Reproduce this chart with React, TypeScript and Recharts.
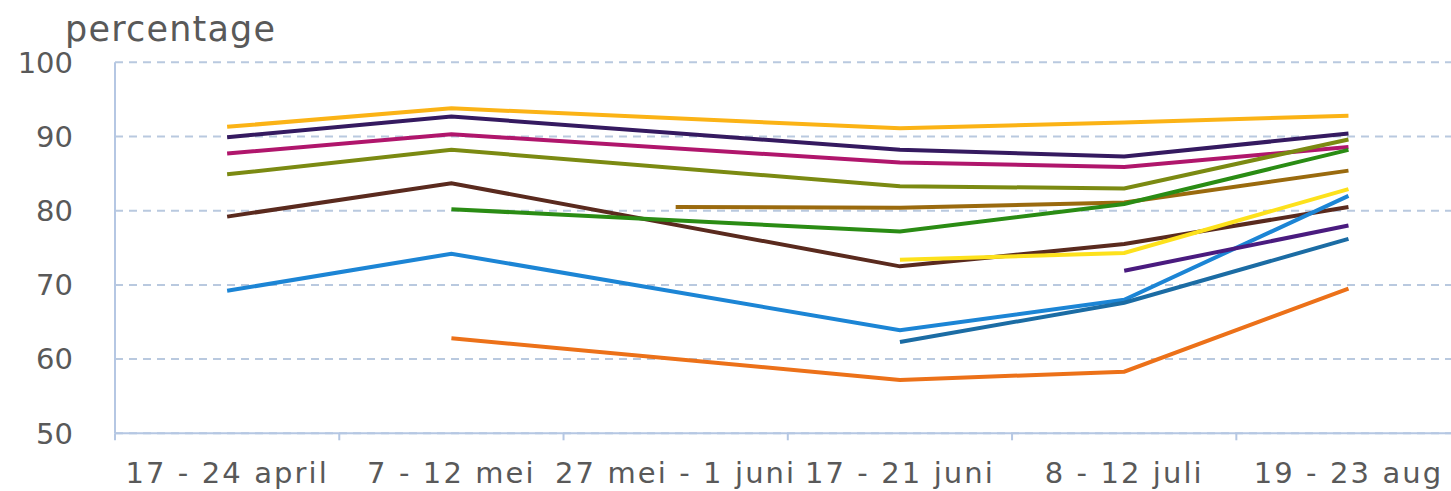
import React from 'react';
import { LineChart, Line, XAxis, YAxis, CartesianGrid } from 'recharts';

// Survey rounds (x categories)
const categories = [
  '17 - 24 april',
  '7 - 12 mei',
  '27 mei - 1 juni',
  '17 - 21 juni',
  '8 - 12 juli',
  '19 - 23 aug',
];

// Percentages per group; null = not measured in that round
const seriesGold = [91.3, 93.8, null, 91.1, 91.9, 92.8];
const seriesNavy = [89.9, 92.7, null, 88.2, 87.3, 90.4];
const seriesMagenta = [87.7, 90.3, null, 86.5, 85.9, 88.6];
const seriesOlive = [84.9, 88.2, null, 83.3, 83.0, 89.6];
const seriesBrown = [79.2, 83.7, null, 72.5, 75.5, 80.5];
const seriesBlue = [69.2, 74.2, null, 63.9, 68.0, 82.0];
const seriesOrange = [null, 62.8, null, 57.2, 58.3, 69.5];
const seriesGreen = [null, 80.2, null, 77.2, 80.9, 88.2];
const seriesOchre = [null, null, 80.5, 80.4, 81.1, 85.4];
const seriesYellow = [null, null, null, 73.4, 74.3, 82.9];
const seriesViolet = [null, null, null, null, 71.9, 78.0];
const seriesTeal = [null, null, null, 62.3, 67.6, 76.2];

const yTicks = [50, 60, 70, 80, 90, 100];

const seriesList: { key: string; values: (number | null)[]; color: string }[] = [
  { key: 'gold', values: seriesGold, color: '#fbb316' },
  { key: 'navy', values: seriesNavy, color: '#351a60' },
  { key: 'magenta', values: seriesMagenta, color: '#b0166c' },
  { key: 'olive', values: seriesOlive, color: '#7b8a12' },
  { key: 'brown', values: seriesBrown, color: '#5a2a1e' },
  { key: 'blue', values: seriesBlue, color: '#1c85d5' },
  { key: 'orange', values: seriesOrange, color: '#ec7119' },
  { key: 'ochre', values: seriesOchre, color: '#9a6a0e' },
  { key: 'green', values: seriesGreen, color: '#2a8c14' },
  { key: 'yellow', values: seriesYellow, color: '#fde11c' },
  { key: 'violet', values: seriesViolet, color: '#4a1b7f' },
  { key: 'teal', values: seriesTeal, color: '#1b6ca4' },
];

const data = categories.map((name, i) => {
  const row: Record<string, string | number | null> = { name };
  seriesList.forEach((s) => {
    row[s.key] = s.values[i];
  });
  return row;
});

const FONT = '"DejaVu Sans", Verdana, sans-serif';
const TEXT = '#595959';
const AXIS = '#b5c7e3';

// Category label centred in its band, with the tick mark on the band's left edge
const CategoryTick = (props: any) => {
  const { x, y, payload } = props;
  const half = payload && typeof payload.offset === 'number' ? payload.offset : 0;
  const edge = x - half;
  return (
    <g>
      <line x1={edge} y1={y} x2={edge} y2={y + 7} stroke={AXIS} strokeWidth={2} />
      <text
        x={x}
        y={y + 49.4}
        textAnchor="middle"
        fontFamily={FONT}
        fontSize={29}
        letterSpacing={2.1}
        fill={TEXT}
      >
        {payload.value}
      </text>
    </g>
  );
};

export default function App() {
  return (
    <div
      style={{
        position: 'absolute',
        left: 0,
        top: 0,
        width: 1451,
        height: 491,
        overflow: 'hidden',
        background: '#ffffff',
      }}
    >
      <LineChart
        width={1470}
        height={491}
        data={data}
        margin={{ top: 62.3, right: 9.4, bottom: 0, left: 0 }}
      >
        <CartesianGrid
          vertical={false}
          stroke="#b9c9df"
          strokeWidth={2}
          strokeDasharray="8 6"
        />
        <XAxis
          dataKey="name"
          scale="band"
          height={57.7}
          tickLine={false}
          tickSize={0}
          tickMargin={0}
          axisLine={{ stroke: AXIS, strokeWidth: 2 }}
          tick={<CategoryTick />}
          interval={0}
        />
        <YAxis
          domain={[50, 100]}
          ticks={yTicks}
          width={115}
          tickLine={false}
          tickSize={0}
          tickMargin={42}
          axisLine={{ stroke: AXIS, strokeWidth: 2 }}
          tick={{ fontFamily: FONT, fontSize: 29, fill: TEXT }}
          allowDataOverflow
        />
        {seriesList.map((s) => (
          <Line
            key={s.key}
            dataKey={s.key}
            stroke={s.color}
            strokeWidth={4}
            dot={false}
            activeDot={false}
            connectNulls
            isAnimationActive={false}
          />
        ))}
        <text
          x={65}
          y={41}
          fontFamily={FONT}
          fontSize={35}
          letterSpacing={1.2}
          fill={TEXT}
        >
          percentage
        </text>
      </LineChart>
    </div>
  );
}
